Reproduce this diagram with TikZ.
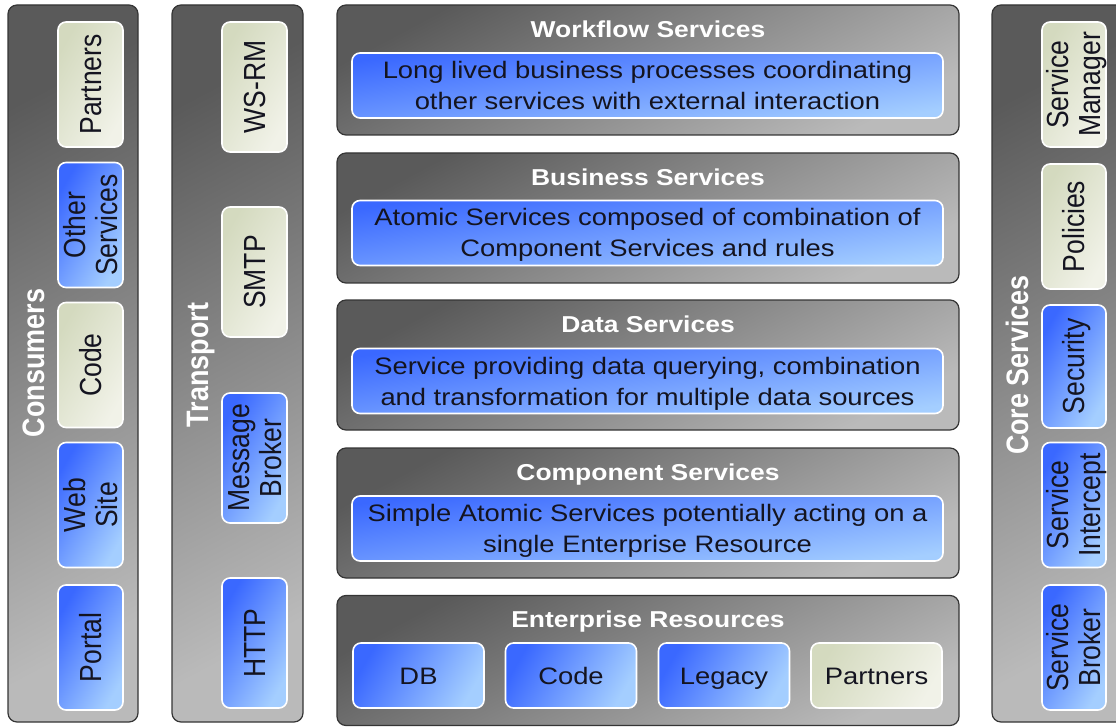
\documentclass[tikz,border=0pt]{standalone}
\usepackage{fontspec}
\setmainfont{Liberation Sans}
\newfontfamily\hfont{Liberation Sans}[FakeStretch=1.15]
\newfontfamily\vfont{Liberation Sans}[FakeStretch=0.87]
\usetikzlibrary{positioning}

\definecolor{panelDark}{HTML}{5A5A5A}
\definecolor{panelLight}{HTML}{BABABA}
\definecolor{panelEdge}{HTML}{353535}
\definecolor{blueDark}{HTML}{3A68FF}
\definecolor{blueLight}{HTML}{A4CEFF}
\definecolor{beigeDark}{HTML}{D4DABF}
\definecolor{beigeLight}{HTML}{F1F2E8}
\definecolor{boxText}{HTML}{141420}

\begin{document}
\begin{tikzpicture}[
                x=1pt, y=-1pt,
                every node/.style={inner sep=0pt, align=center},
                panel/.style={draw=panelEdge, line width=1.2pt, rounded corners=9pt,
                              top color=panelDark, bottom color=panelLight, shading angle=28},
                layer/.style={panel, minimum width=622pt, minimum height=130pt},
                column/.style={panel, rotate=90, minimum width=717pt, minimum height=130pt},
                box/.style={draw=white, line width=1.6pt, rounded corners=8pt, text=boxText},
                bluebox/.style={box, left color=blueDark, right color=blueLight, shading angle=60},
                beigebox/.style={box, left color=beigeDark, right color=beigeLight, shading angle=60},
                widebox/.style={box, top color=blueDark, bottom color=blueLight, shading angle=8,
                                minimum width=591pt, minimum height=65pt,
                                text height=48pt, text depth=0pt,
                                font=\hfont\fontsize{23.8}{31}\selectfont},
                resbox/.style={minimum width=131pt, minimum height=65pt,
                               text height=17pt, text depth=0pt,
                               font=\hfont\fontsize{23.8}{31}\selectfont},
                sidebox/.style={rotate=90, minimum width=125pt, minimum height=65pt,
                                text height=21.8pt, text depth=0pt,
                                font=\vfont\fontsize{30.5}{32}\selectfont},
                twoline/.style={text height=53.8pt},
                title/.style={text=white, text height=16.5pt, text depth=0pt,
                              font=\hfont\bfseries\fontsize{23}{28}\selectfont},
                sidetitle/.style={text=white, rotate=90, text height=22pt, text depth=0pt,
                                  font=\vfont\bfseries\fontsize{31}{31}\selectfont}]
            \clip (0,0) rectangle (1116,727);

            % Consumers
            \node[column] (cons) at (73,363.5) {};
            \node[sidetitle] (consT) at (33,363) {Consumers};
            \node[beigebox, sidebox] (cPartners) at (90.5,84.5) {Partners};
            \node[bluebox, sidebox, twoline] (cOther) at (90.5,225) {Other\\Services};
            \node[beigebox, sidebox] (cCode) at (90.5,365) {Code};
            \node[bluebox, sidebox, twoline] (cWeb) at (90.5,505) {Web\\Site};
            \node[bluebox, sidebox] (cPortal) at (90.5,647.5) {Portal};

            % Transport
            \node[column, minimum height=131pt] (trans) at (237.5,363.5) {};
            \node[sidetitle] (transT) at (197,365) {Transport};
            \node[beigebox, sidebox, minimum width=130pt] (tWsrm) at (254.5,87) {WS-RM};
            \node[beigebox, sidebox, minimum width=130pt] (tSmtp) at (254.5,272) {SMTP};
            \node[bluebox, sidebox, twoline, minimum width=130pt] (tBroker) at (254.5,458) {Message\\Broker};
            \node[bluebox, sidebox, minimum width=130pt] (tHttp) at (254.5,643) {HTTP};

            % Service layers
            \node[layer] (wf) at (648,70) {};
            \node[title] (wfT) at (648,29) {Workflow Services};
            \node[widebox] (wfB) at (647.5,85.5) {Long lived business processes coordinating\\other services with external interaction};

            \node[layer] (bus) at (648,218) {};
            \node[title] (busT) at (648,177) {Business Services};
            \node[widebox] (busB) at (647.5,233) {Atomic Services composed of combination of\\Component Services and rules};

            \node[layer] (data) at (648,365) {};
            \node[title] (dataT) at (648,324.5) {Data Services};
            \node[widebox] (dataB) at (647.5,381) {Service providing data querying, combination\\and transformation for multiple data sources};

            \node[layer] (comp) at (648,513) {};
            \node[title] (compT) at (648,472) {Component Services};
            \node[widebox] (compB) at (647.5,528.5) {Simple Atomic Services potentially acting on a\\single Enterprise Resource};

            \node[layer] (ent) at (648,660.5) {};
            \node[title] (entT) at (648,619.5) {Enterprise Resources};
            \node[bluebox, resbox] (eDb) at (418.5,675.5) {DB};
            \node[bluebox, resbox] (eCode) at (571,675.5) {Code};
            \node[bluebox, resbox] (eLegacy) at (724,675.5) {Legacy};
            \node[beigebox, resbox] (ePartners) at (876.5,675.5) {Partners};

            % Core Services
            \node[column, minimum height=134pt] (core) at (1059,363.5) {};
            \node[sidetitle] (coreT) at (1017,365) {Core Services};
            \node[beigebox, sidebox, twoline, minimum height=64pt] (sMgr) at (1074,84.5) {Service\\Manager};
            \node[beigebox, sidebox, minimum height=64pt] (sPol) at (1074,226.5) {Policies};
            \node[bluebox, sidebox, minimum height=64pt, minimum width=123pt] (sSec) at (1074,366.5) {Security};
            \node[bluebox, sidebox, twoline, minimum height=64pt] (sInt) at (1074,505) {Service\\Intercept};
            \node[bluebox, sidebox, twoline, minimum height=64pt] (sBrk) at (1074,647.5) {Service\\Broker};

        \end{tikzpicture}
\end{document}
